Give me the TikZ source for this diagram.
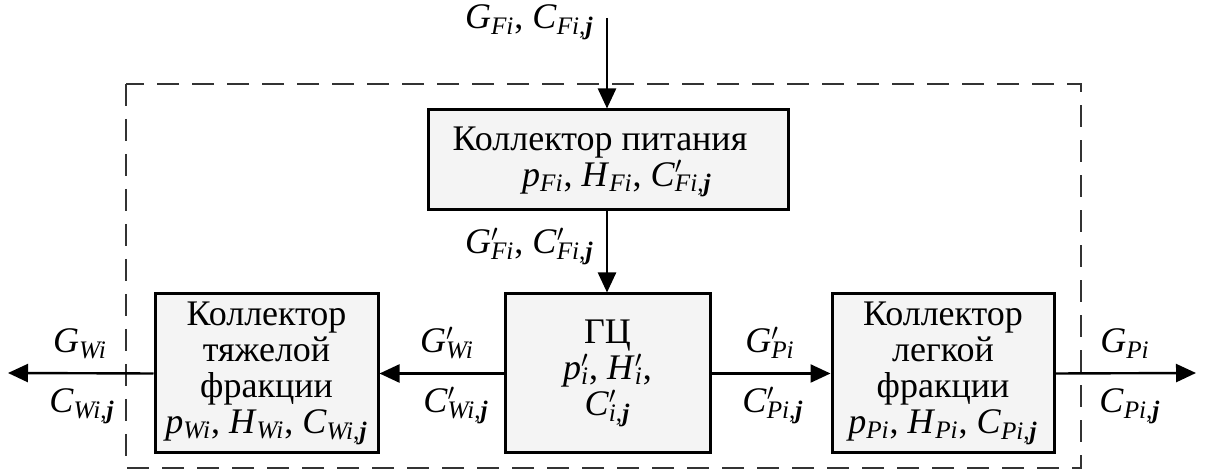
\documentclass[tikz,border=0pt]{standalone}
\usepackage{fontspec}
\setmainfont{Liberation Serif}
\usetikzlibrary{arrows.meta}
\newcommand\bj{\textbf{\textit{j}}}
\newcommand\vq[2]{\textit{#1}\textsubscript{\textit{#2}}}
\newcommand\vqj[2]{\textit{#1}\textsubscript{\textit{#2},\bj}}
\newcommand\vqp[2]{\textit{#1}\rlap{\textsuperscript{$\prime$}}\textsubscript{\textit{#2}}}
\newcommand\vqpj[2]{\textit{#1}\rlap{\textsuperscript{$\prime$}}\textsubscript{\textit{#2},\bj}}
\definecolor{boxfill}{RGB}{244,244,244}
\begin{document}
\begin{tikzpicture}[x=0.5pt,y=-0.5pt,
  every node/.style={font=\fontsize{18}{18}\selectfont, inner sep=0pt},
  box/.style={draw, line width=1.5pt, fill=boxfill, align=center},
  flow/.style={line width=1.2pt, -{Triangle[length=10pt,width=9pt]}},
  frame/.style={line width=0.8pt, dash pattern=on 11pt off 6.5pt, draw=black!80},
  lab/.style={anchor=base}]
\useasboundingbox (0,0) rectangle (1209,474);
% system boundary
\draw[frame] (126,84) rectangle (1081,468);
% blocks
\node[box, minimum width=180pt, minimum height=50pt] (tb) at (608,160) {};
\node[align=center] (tbt) at (600,162) {Коллектор питания\\ \hspace*{17pt}\vq{p}{Fi}, \vq{H}{Fi}, \vqpj{C}{Fi}};
\node[box, minimum width=102.5pt, minimum height=79.5pt] (gc) at (607.5,373.5)
  {ГЦ\\ \vqp{p}{i}, \vqp{H}{i},\\ \vqpj{C}{i}};
\node[box, minimum width=111.5pt, minimum height=79.5pt] (lb) at (266.5,373.5)
  {Коллектор\\ тяжелой\\ фракции\\ \vq{p}{Wi}, \vq{H}{Wi}, \vqj{C}{Wi}};
\node[box, minimum width=111pt, minimum height=79.5pt] (rb) at (943,373.5)
  {Коллектор\\ легкой\\ фракции\\ \vq{p}{Pi}, \vq{H}{Pi}, \vqj{C}{Pi}};
% free ends
\coordinate (inF) at (607,18);
\coordinate (outW) at (8,373);
\coordinate (outP) at (1196,373);
% flows
\draw[flow] (inF) -- (inF |- tb.north);
\draw[flow] (tb.south -| inF) -- (inF |- gc.north);
\draw[flow] (gc.west) -- (lb.east);
\draw[flow] (gc.east) -- (rb.west);
\draw[flow] (lb.west) -- (outW);
\draw[flow] (rb.east) -- (outP);
% flow labels
\node[anchor=base east] (lF) at (594,29) {\vq{G}{Fi}, \vqj{C}{Fi}};
\node[anchor=base east] (lFp) at (594,254) {\vqp{G}{Fi}, \vqpj{C}{Fi}};
\node[lab] (lGWp) at (447,353) {\vqp{G}{Wi}};
\node[lab] (lCWp) at (456,413) {\vqpj{C}{Wi}};
\node[lab] (lGW) at (80,353) {\vq{G}{Wi}};
\node[lab] (lCW) at (82,413) {\vqj{C}{Wi}};
\node[lab] (lGPp) at (770,353) {\vqp{G}{Pi}};
\node[lab] (lCPp) at (773,413) {\vqpj{C}{Pi}};
\node[lab] (lGP) at (1125,353) {\vq{G}{Pi}};
\node[lab] (lCP) at (1130,413) {\vqj{C}{Pi}};
\end{tikzpicture}
\end{document}
